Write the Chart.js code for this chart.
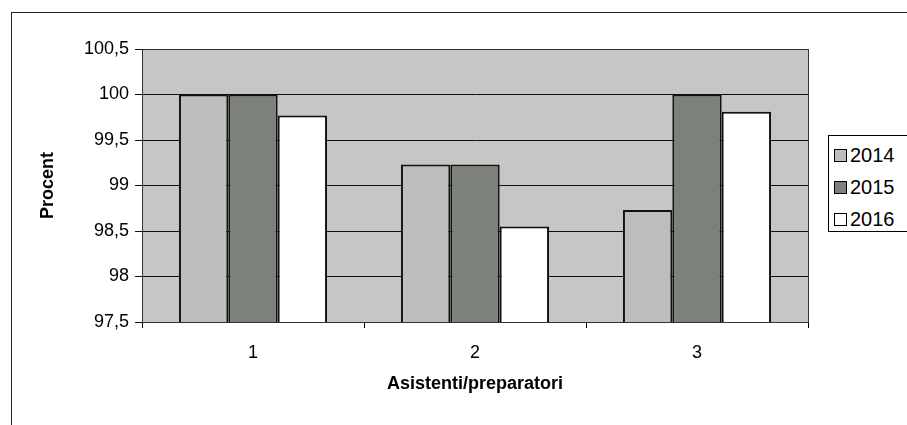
<!DOCTYPE html>
<html>
<head>
<meta charset="utf-8">
<script src="https://cdn.jsdelivr.net/npm/chart.js@4"></script>
<style>
  body { margin: 0; background: #fff; }
  #wrap { position: relative; width: 907px; height: 425px; overflow: hidden; }
  #legend {
    position: absolute; left: 828px; top: 135px; width: 110px; height: 97px;
    border: 1px solid #000; background: #fff; box-sizing: border-box;
    font-family: "Liberation Sans", Arial, sans-serif; font-size: 20px; color: #000;
    padding-top: 3px;
  }
  .leg-item { height: 32px; display: flex; align-items: center; padding-left: 5px; }
  .leg-box { width: 11px; height: 11px; border: 1px solid #000; margin-right: 3px; }
</style>
</head>
<body>
<div id="wrap">
  <canvas id="myChart" width="907" height="425"></canvas>
  <div id="legend"></div>
</div>
<script>
var categories = ['1', '2', '3'];
var years = ['2014', '2015', '2016'];
var values2014 = [100, 99.23, 98.73];
var values2015 = [100, 99.23, 100];
var values2016 = [99.77, 98.55, 99.81];
var yMin = 97.5;
var yMax = 100.5;
var yStep = 0.5;

var colors = ['#bdbdbb', '#7c827b', '#ffffff'];
var font = 'Liberation Sans, Arial, sans-serif';

// gray plot area + outer chart frame
var plotBack = {
  id: 'plotBack',
  beforeDraw: function(chart) {
    var ctx = chart.ctx;
    var a = chart.chartArea;
    ctx.save();
    ctx.strokeStyle = '#222';
    ctx.lineWidth = 1;
    ctx.strokeRect(11.5, 12.5, 1000, 1000);
    ctx.fillStyle = '#c6c6c4';
    ctx.fillRect(a.left, a.top, a.right - a.left, a.bottom - a.top);
    ctx.restore();
  },
  afterDatasetsDraw: function(chart) {
    var ctx = chart.ctx;
    var a = chart.chartArea;
    ctx.save();
    ctx.strokeStyle = '#333';
    ctx.lineWidth = 1;
    ctx.strokeRect(Math.round(a.left) + 0.5, Math.round(a.top) + 0.5,
      Math.round(a.right - a.left), Math.round(a.bottom - a.top));
    ctx.restore();
  }
};

var ctx = document.getElementById('myChart').getContext('2d');
var myChart = new Chart(ctx, {
  type: 'bar',
  plugins: [plotBack],
  data: {
    labels: categories,
    datasets: [
      { label: years[0], data: values2014, backgroundColor: colors[0] },
      { label: years[1], data: values2015, backgroundColor: colors[1] },
      { label: years[2], data: values2016, backgroundColor: colors[2] }
    ].map(function(ds) {
      ds.borderColor = '#111';
      ds.borderWidth = 2;
      ds.borderSkipped = 'bottom';
      ds.categoryPercentage = 0.667;
      ds.barPercentage = 1;
      return ds;
    })
  },
  options: {
    responsive: false,
    animation: false,
    layout: {
      padding: { left: 37, right: 99, top: 49, bottom: 30 }
    },
    plugins: {
      legend: { display: false },
      tooltip: { enabled: false }
    },
    scales: {
      x: {
        grid: {
          display: true,
          drawOnChartArea: false,
          offset: true,
          color: '#000',
          tickLength: 6
        },
        border: { color: '#000' },
        ticks: {
          color: '#000',
          padding: 14,
          font: { family: font, size: 18 }
        },
        title: {
          display: true,
          text: 'Asistenti/preparatori',
          color: '#000',
          padding: { top: 4, bottom: 0 },
          font: { family: font, size: 18, weight: 'bold' }
        },
        afterFit: function(scale) { scale.height = 73; }
      },
      y: {
        min: yMin,
        max: yMax,
        grid: {
          color: '#111',
          tickLength: 7
        },
        border: { color: '#000' },
        ticks: {
          stepSize: yStep,
          color: '#000',
          padding: 6,
          font: { family: font, size: 18 },
          callback: function(v) { return String(v).replace('.', ','); }
        },
        title: {
          display: true,
          text: 'Procent',
          color: '#000',
          padding: { top: 0, bottom: 0 },
          font: { family: font, size: 18, weight: 'bold' }
        },
        afterFit: function(scale) { scale.width = 105; }
      }
    }
  }
});

// legend from the datasets
var legend = document.getElementById('legend');
myChart.data.datasets.forEach(function(ds) {
  var item = document.createElement('div');
  item.className = 'leg-item';
  var box = document.createElement('span');
  box.className = 'leg-box';
  box.style.background = ds.backgroundColor;
  item.appendChild(box);
  item.appendChild(document.createTextNode(ds.label));
  legend.appendChild(item);
});
</script>
</body>
</html>
